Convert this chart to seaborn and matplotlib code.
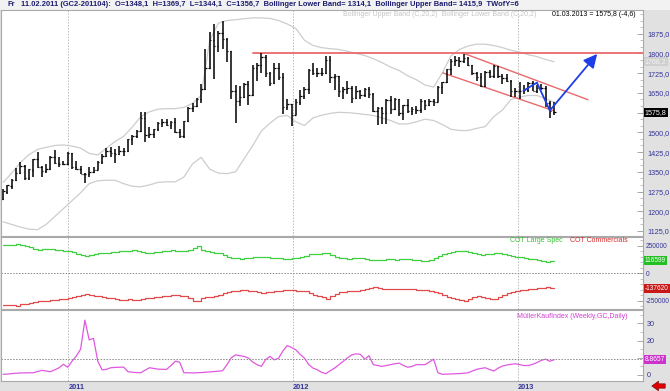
import numpy as np
import pandas as pd
import matplotlib
matplotlib.use("Agg")
import matplotlib.pyplot as plt
import matplotlib.dates as mdates
from matplotlib.patches import Rectangle, FancyArrowPatch
import seaborn as sns

# weekly bars (Friday), 17.09.2010 .. 01.03.2013
first_week = "2010-09-17"

opens = [1246, 1275, 1297, 1318, 1346, 1372, 1328, 1358, 1397, 1368, 1352, 1362, 1406, 1385, 1378, 1380,
         1421, 1369, 1360, 1342, 1341, 1348.1, 1357, 1388, 1409, 1429, 1420, 1419, 1429, 1429, 1474, 1486,
         1504, 1556, 1491, 1493, 1511, 1536, 1541, 1529, 1539, 1500, 1486, 1542, 1594, 1601, 1628, 1663,
         1744, 1852, 1828, 1876, 1856, 1810, 1656, 1620, 1635, 1682, 1642, 1745, 1756, 1788, 1725, 1686,
         1746, 1711, 1598, 1606, 1566, 1617, 1639, 1664, 1738, 1725, 1724, 1725, 1775, 1710, 1713, 1657,
         1663, 1669, 1630, 1659, 1642, 1663, 1645, 1580, 1592, 1573, 1622, 1590, 1626, 1573, 1604, 1580,
         1590, 1584, 1618, 1605, 1620, 1616, 1672, 1692, 1740, 1770, 1774, 1772, 1781, 1757, 1724, 1711,
         1676, 1731, 1714, 1752, 1713, 1705, 1697, 1657, 1656, 1656, 1662, 1687, 1658, 1667, 1668, 1610,
         1578]
highs = [1284, 1300, 1321, 1365, 1388, 1375, 1362, 1398, 1424, 1371, 1380, 1410, 1432, 1407, 1390, 1424,
         1423, 1392, 1371, 1345, 1367, 1369.7, 1392, 1416, 1440, 1445, 1436, 1448, 1440, 1476, 1489, 1509,
         1577, 1577, 1520, 1514, 1538, 1550, 1549, 1545, 1556, 1512, 1545, 1596, 1610, 1631, 1682, 1817,
         1882, 1912, 1886, 1923, 1860, 1810, 1680, 1677, 1689, 1695, 1757, 1765, 1802, 1795, 1730, 1764,
         1763, 1724, 1625, 1608, 1626, 1661, 1673, 1740, 1764, 1746, 1744, 1790, 1792, 1720, 1714, 1672,
         1695, 1677, 1677, 1661, 1669, 1673, 1651, 1598, 1597, 1628, 1640, 1630, 1628, 1605, 1625, 1598,
         1599, 1626, 1624, 1626, 1627, 1675, 1692, 1740, 1778, 1790, 1787, 1796, 1785, 1755, 1728, 1726,
         1734, 1738, 1755, 1754, 1723, 1722, 1699, 1667, 1693, 1680, 1692, 1694, 1679, 1684, 1675, 1619,
         1617]
lows = [1241, 1267, 1286, 1314, 1340, 1317, 1318, 1329, 1364, 1330, 1346, 1355, 1378, 1367, 1375, 1376,
        1362, 1355, 1341, 1309, 1330, 1344.1, 1355, 1380, 1405, 1405, 1382, 1415, 1411, 1426, 1450, 1478,
        1500, 1462, 1479, 1480, 1504, 1520, 1524, 1512, 1496, 1478, 1480, 1538, 1577, 1595, 1610, 1660,
        1740, 1702, 1805, 1818, 1766, 1627, 1535, 1600, 1629, 1604, 1637, 1696, 1725, 1712, 1676, 1684,
        1700, 1568, 1586, 1523, 1566, 1603, 1628, 1647, 1719, 1709, 1713, 1722, 1688, 1661, 1636, 1627,
        1646, 1612, 1625, 1627, 1634, 1631, 1578, 1527, 1533, 1532, 1570, 1585, 1563, 1547, 1575, 1566,
        1568, 1572, 1585, 1600, 1599, 1616, 1647, 1688, 1718, 1752, 1750, 1765, 1752, 1718, 1697, 1673,
        1672, 1707, 1705, 1705, 1684, 1690, 1635, 1636, 1627, 1645, 1653, 1656, 1651, 1660, 1598, 1555,
        1565]
closes = [1276, 1298, 1318, 1345, 1372, 1328, 1359, 1397, 1368, 1352, 1362, 1406, 1385, 1378, 1380, 1421,
          1369, 1360, 1342, 1341, 1349, 1356.7, 1388, 1409, 1429, 1420, 1419, 1429, 1429, 1474, 1486, 1504,
          1556, 1491, 1493, 1511, 1536, 1541, 1529, 1539, 1500, 1486, 1542, 1594, 1601, 1628, 1663, 1744,
          1852, 1828, 1876, 1856, 1811, 1656, 1620, 1635, 1682, 1642, 1745, 1756, 1788, 1725, 1686, 1746,
          1711, 1598, 1606, 1566, 1617, 1639, 1664, 1738, 1725, 1724, 1725, 1775, 1710, 1713, 1657, 1663,
          1669, 1630, 1659, 1642, 1663, 1645, 1580, 1592, 1573, 1622, 1590, 1626, 1573, 1604, 1580, 1590,
          1584, 1618, 1605, 1620, 1616, 1672, 1692, 1740, 1770, 1774, 1772, 1781, 1757, 1724, 1711, 1676,
          1731, 1714, 1752, 1713, 1705, 1697, 1657, 1656, 1656, 1662, 1687, 1658, 1667, 1668, 1610, 1580,
          1575.8]

# Bollinger bands, read every second week
band_step = 2
upper_band = [1310, 1345, 1385, 1415, 1435, 1443, 1450, 1452, 1448, 1440, 1420, 1414, 1440, 1465, 1485, 1520,
              1560, 1578, 1588, 1590, 1590, 1595, 1610, 1640, 1850, 1915, 1925, 1928, 1932, 1935, 1935, 1933,
              1925, 1912, 1895, 1850, 1830, 1822, 1818, 1815, 1808, 1800, 1792, 1780, 1765, 1748, 1735, 1715,
              1700, 1680, 1672, 1725, 1790, 1815, 1828, 1835, 1835, 1830, 1822, 1812, 1805, 1795, 1788, 1777,
              1768.2]
lower_band = [1160, 1150, 1140, 1132, 1130, 1150, 1180, 1210, 1240, 1270, 1305, 1316, 1318, 1318, 1305, 1295,
              1293, 1300, 1310, 1312, 1312, 1330, 1380, 1405, 1360, 1345, 1343, 1350, 1400, 1450, 1505, 1535,
              1560, 1564, 1540, 1526, 1555, 1565, 1572, 1576, 1575, 1572, 1568, 1564, 1555, 1545, 1532, 1532,
              1540, 1550, 1545, 1530, 1512, 1507, 1507, 1515, 1522, 1560, 1585, 1625, 1635, 1640, 1640, 1628,
              1615]

# COT positions in thousand contracts
cot_large_spec = [255, 258, 262, 265, 260, 250, 241, 225, 211, 218, 222, 226, 215, 210, 205, 200,
                  196, 180, 165, 157, 165, 175, 181, 186, 190, 193, 196, 200, 205, 208, 211, 200,
                  192, 187, 190, 194, 196, 200, 206, 211, 208, 204, 205, 215, 235, 247, 215, 205,
                  198, 190, 187, 170, 150, 136, 138, 134, 136, 140, 145, 148, 151, 145, 140, 136,
                  138, 134, 135, 136, 140, 150, 160, 172, 175, 180, 184, 187, 170, 150, 136, 138,
                  133, 136, 138, 136, 130, 125, 120, 122, 125, 128, 127, 124, 128, 127, 127, 122,
                  118, 116, 114, 125, 140, 155, 175, 185, 195, 202, 205, 200, 196, 185, 175, 166,
                  172, 180, 185, 187, 175, 165, 157, 150, 145, 140, 133, 127, 120, 112, 105, 110,
                  116.599]
cot_commercials = [-286, -290, -293, -295, -285, -277, -270, -262, -256, -252, -250, -247, -243, -238, -235, -225,
                   -215, -211, -195, -187, -195, -205, -211, -218, -222, -226, -235, -242, -247, -240, -245, -247,
                   -238, -230, -226, -220, -215, -211, -205, -196, -200, -205, -211, -230, -256, -250, -226, -220,
                   -215, -211, -200, -185, -172, -166, -160, -155, -151, -158, -165, -172, -181, -175, -168, -162,
                   -158, -157, -155, -157, -160, -163, -166, -180, -195, -205, -220, -235, -210, -190, -172, -168,
                   -165, -162, -160, -150, -140, -132, -127, -135, -140, -145, -145, -142, -146, -145, -145, -148,
                   -150, -151, -151, -160, -170, -181, -200, -215, -226, -240, -248, -250, -235, -220, -211, -220,
                   -228, -232, -235, -215, -195, -181, -170, -160, -155, -151, -145, -140, -136, -133, -130, -132,
                   -137.62]

mueller_kauf = [0.4, 0.5, 0.8, 1.0, 1.2, 1.2, 1.3, 1.3, 2.0, 2.7, 2.3, 1.9, 3.0, 4.2, 6.2, 4.5,
                8.0, 11.0, 15.0, 31.9, 20.4, 21.3, 7.9, 3.0, 3.3, 4.2, 4.4, 4.5, 4.6, 1.9, 1.6, 1.4,
                1.3, 2.8, 4.2, 3.8, 3.4, 3.3, 3.3, 5.5, 8.0, 7.5, 1.3, 1.3, 1.2, 1.3, 1.4, 1.6,
                1.8, 2.0, 2.2, 2.5, 6.0, 10.0, 11.7, 11.2, 10.8, 9.8, 7.5, 6.0, 5.0, 9.0, 10.8, 8.8,
                9.8, 14.0, 17.1, 16.0, 14.6, 12.0, 9.8, 6.0, 4.0, 3.0, 1.5, 0.8, 2.5, 4.0, 6.0, 7.9,
                10.0, 11.7, 12.3, 12.0, 9.2, 11.2, 6.0, 5.5, 5.0, 5.5, 6.0, 6.5, 6.9, 5.5, 4.5, 5.0,
                6.0, 6.0, 6.0, 7.5, 9.2, 1.3, 0.4, 0.5, 0.6, 0.7, 0.8, 1.0, 1.3, 2.3, 3.3, 3.8,
                4.2, 3.2, 2.3, 4.0, 5.2, 5.8, 6.2, 6.5, 6.0, 5.5, 5.5, 6.2, 7.2, 8.5, 9.2, 8.0,
                8.8657]

# hand drawn lines on the price chart
resist_dates = ["2011-10-28", "2013-07-24"]
resist_vals = [1800, 1800]
chan_up_dates = ["2012-10-03", "2013-04-25"]
chan_up_vals = [1802, 1624]
chan_lo_dates = ["2012-09-01", "2013-02-27"]
chan_lo_vals = [1726, 1583]
path_dates = ["2013-01-10", "2013-02-01", "2013-02-22", "2013-05-10"]
path_vals = [1658, 1689, 1583, 1798]

years = ["2011-01-01", "2012-01-01", "2013-01-01"]
year_labels = ["2011", "2012", "2013"]

header = ("11.02.2011 (GC2-201104):  O=1348,1  H=1369,7  L=1344,1  C=1356,7  "
          "Bollinger Lower Band= 1314,1  Bollinger Upper Band= 1415,9  TWofY=6")

# ------------------------------------------------------------------
sns.set_theme(style="white")
plt.rcParams["font.family"] = ["Liberation Sans", "DejaVu Sans"]

W, H = 670, 391
fig = plt.figure(figsize=(W / 100, H / 100), dpi=100)
fig.patch.set_facecolor("#e1e1e1")
fig.add_artist(Rectangle((0, 1 - 10 / H), 1, 10 / H, transform=fig.transFigure,
                         facecolor="#f2f2f2", edgecolor="none", zorder=0))


def panel(top, bottom, left=1, right=643):
    return [left / W, 1 - bottom / H, (right - left) / W, (bottom - top) / H]


def ftxt(px, py, s, **kw):
    fig.text(px / W, 1 - py / H, s, va="center", **kw)


ax1 = fig.add_axes(panel(10, 236))
ax2 = fig.add_axes(panel(237, 309), sharex=ax1)
ax3 = fig.add_axes(panel(310, 381), sharex=ax1)

d = pd.date_range(first_week, periods=len(closes), freq="7D")
bd = d[::band_step]
tick = pd.Timedelta(days=2.3)
tick_col = "#333399"

# price bars
ax1.vlines(d, lows, highs, color="black", lw=1.1, zorder=3)
ax1.hlines(opens, d - tick, d, color="black", lw=0.9, zorder=3)
ax1.hlines(closes, d, d + tick, color="black", lw=0.9, zorder=3)

sns.lineplot(x=bd, y=upper_band, ax=ax1, color="#cdcdcd", lw=0.9, estimator=None)
sns.lineplot(x=bd, y=lower_band, ax=ax1, color="#cdcdcd", lw=0.9, estimator=None)

red = "#e86a6a"
sns.lineplot(x=pd.to_datetime(resist_dates), y=resist_vals, ax=ax1, color=red, lw=1.3, estimator=None)
sns.lineplot(x=pd.to_datetime(chan_up_dates), y=chan_up_vals, ax=ax1, color=red, lw=1.0, estimator=None)
sns.lineplot(x=pd.to_datetime(chan_lo_dates), y=chan_lo_vals, ax=ax1, color=red, lw=1.0, estimator=None)

blue = "#1f3fe6"
pd_num = mdates.date2num(pd.to_datetime(path_dates))
ax1.plot(pd_num[:3], path_vals[:3], color=blue, lw=1.3, zorder=4)
ax1.annotate("", xy=(pd_num[3], path_vals[3]), xytext=(pd_num[2], path_vals[2]),
             arrowprops=dict(arrowstyle="-|>,head_length=0.9,head_width=0.45", color=blue,
                             lw=1.3, shrinkA=0, shrinkB=0, mutation_scale=9), zorder=4)

# indicators
sns.lineplot(x=d, y=cot_large_spec, ax=ax2, color="#3fcf3f", lw=0.9, estimator=None,
             drawstyle="steps-post")
sns.lineplot(x=d, y=cot_commercials, ax=ax2, color="#e04a4a", lw=0.9, estimator=None,
             drawstyle="steps-post")
sns.lineplot(x=d, y=mueller_kauf, ax=ax3, color="#e058e0", lw=0.9, estimator=None)

# labels hidden behind the value tags are left empty
ax1.set_ylim(1106, 1965)
price_ticks = np.arange(1125, 1876, 75)
ax1.set_yticks(price_ticks)
ax1.set_yticks(np.arange(1125, 1951, 25), minor=True)
ax1.set_yticklabels(["" if v == 1575 else f"{v:.1f}".replace(".", ",") for v in price_ticks])

ax2.set_ylim(-327, 332)
ax2.set_yticks([-250, 0, 250])
ax2.set_yticks(np.arange(-300, 301, 50), minor=True)
ax2.set_yticklabels(["-250000", "0", "250000"])
ax2.axhline(0, color="#8a8a8a", lw=0.7, ls=(0, (1.5, 1.5)))

ax3.set_ylim(-3.5, 37.8)
ax3.set_yticks([0, 10, 20, 30])
ax3.set_yticks(np.arange(0, 36, 5), minor=True)
ax3.set_yticklabels(["0", "", "20", "30"])
ax3.axhline(9.2, color="#8a8a8a", lw=0.7, ls=(0, (1.5, 1.5)))

ax1.set_xlim(pd.Timestamp("2010-09-13 14:00"), pd.Timestamp("2013-07-23 12:00"))
for ax in (ax1, ax2, ax3):
    ax.set_facecolor("white")
    ax.set_xlabel("")
    ax.set_ylabel("")
    for s in ax.spines.values():
        s.set_color("#a9a9a9")
        s.set_linewidth(0.8)
    for y in years:
        ax.axvline(pd.Timestamp(y), color="#b8b8b8", lw=0.7, ls=(0, (1.5, 1.5)), zorder=1)
    ax.yaxis.tick_right()
    ax.tick_params(axis="y", which="major", direction="in", length=4, width=0.6, color="#999999",
                   labelsize=5.2, labelcolor=tick_col, pad=3)
    ax.tick_params(axis="y", which="minor", direction="in", length=2, width=0.5, color="#aaaaaa", right=True)
    ax.tick_params(axis="x", length=0, labelbottom=False)
ax2.tick_params(axis="y", labelsize=4.7, pad=2)

ax3.set_xticks(pd.to_datetime(years))
ax3.set_xticklabels(year_labels)
ax3.tick_params(axis="x", labelbottom=True, labelsize=5.3, labelcolor=tick_col, pad=2)
for lab in ax3.get_xticklabels():
    lab.set_horizontalalignment("left")
    lab.set_fontweight("bold")


def value_tag(ax, y, text, fc, tc="white", size=5.1):
    ax.text(1.003, y, text, transform=ax.get_yaxis_transform(), ha="left", va="center",
            fontsize=size, color=tc, clip_on=False, zorder=6,
            bbox=dict(boxstyle="square,pad=0.12", fc=fc, ec="none"))


value_tag(ax1, upper_band[-1], f"{upper_band[-1]:.1f}".replace(".", ","), "#cfcfcf", "#f4f4f4")
value_tag(ax1, closes[-1], f"{closes[-1]:.1f}".replace(".", ","), "black")
value_tag(ax2, cot_large_spec[-1], f"{cot_large_spec[-1] * 1000:.0f}", "#22c022", size=4.7)
value_tag(ax2, cot_commercials[-1], f"{cot_commercials[-1] * 1000:.0f}", "#c81818", size=4.7)
value_tag(ax3, mueller_kauf[-1], f"{mueller_kauf[-1]:.4f}", "#cc33cc", size=4.9)

# texts
ftxt(7, 5, "Fr", fontsize=5.4, color="#1c1c70", fontweight="bold")
ftxt(21, 5, header, fontsize=5.4, color="#1c1c70", fontweight="bold")
ftxt(343, 14, "Bollinger Upper Band (C,20,2)  Bollinger Lower Band (C,20,2)", fontsize=5.0, color="#c4c4c4")
ftxt(552, 14, "01.03.2013 = 1575,8 (-4,6)", fontsize=5.0, color="black")
ftxt(510, 241, "COT Large Spec", fontsize=5.0, color="#2ec42e")
ftxt(570, 241, "COT Commercials", fontsize=5.0, color="#d42a2a")
ftxt(517, 316, "MüllerKaufIndex (Weekly,GC,Daily)", fontsize=5.0, color="#d040d0")

fig.add_artist(FancyArrowPatch((668 / W, 1 - 386 / H), (649 / W, 1 - 386 / H), transform=fig.transFigure,
                               arrowstyle="simple,head_length=0.7,head_width=1.0,tail_width=0.45",
                               mutation_scale=7, fc="#e00000", ec="#700000", lw=0.4))

fig.savefig("out.png", dpi=100, facecolor=fig.get_facecolor())
